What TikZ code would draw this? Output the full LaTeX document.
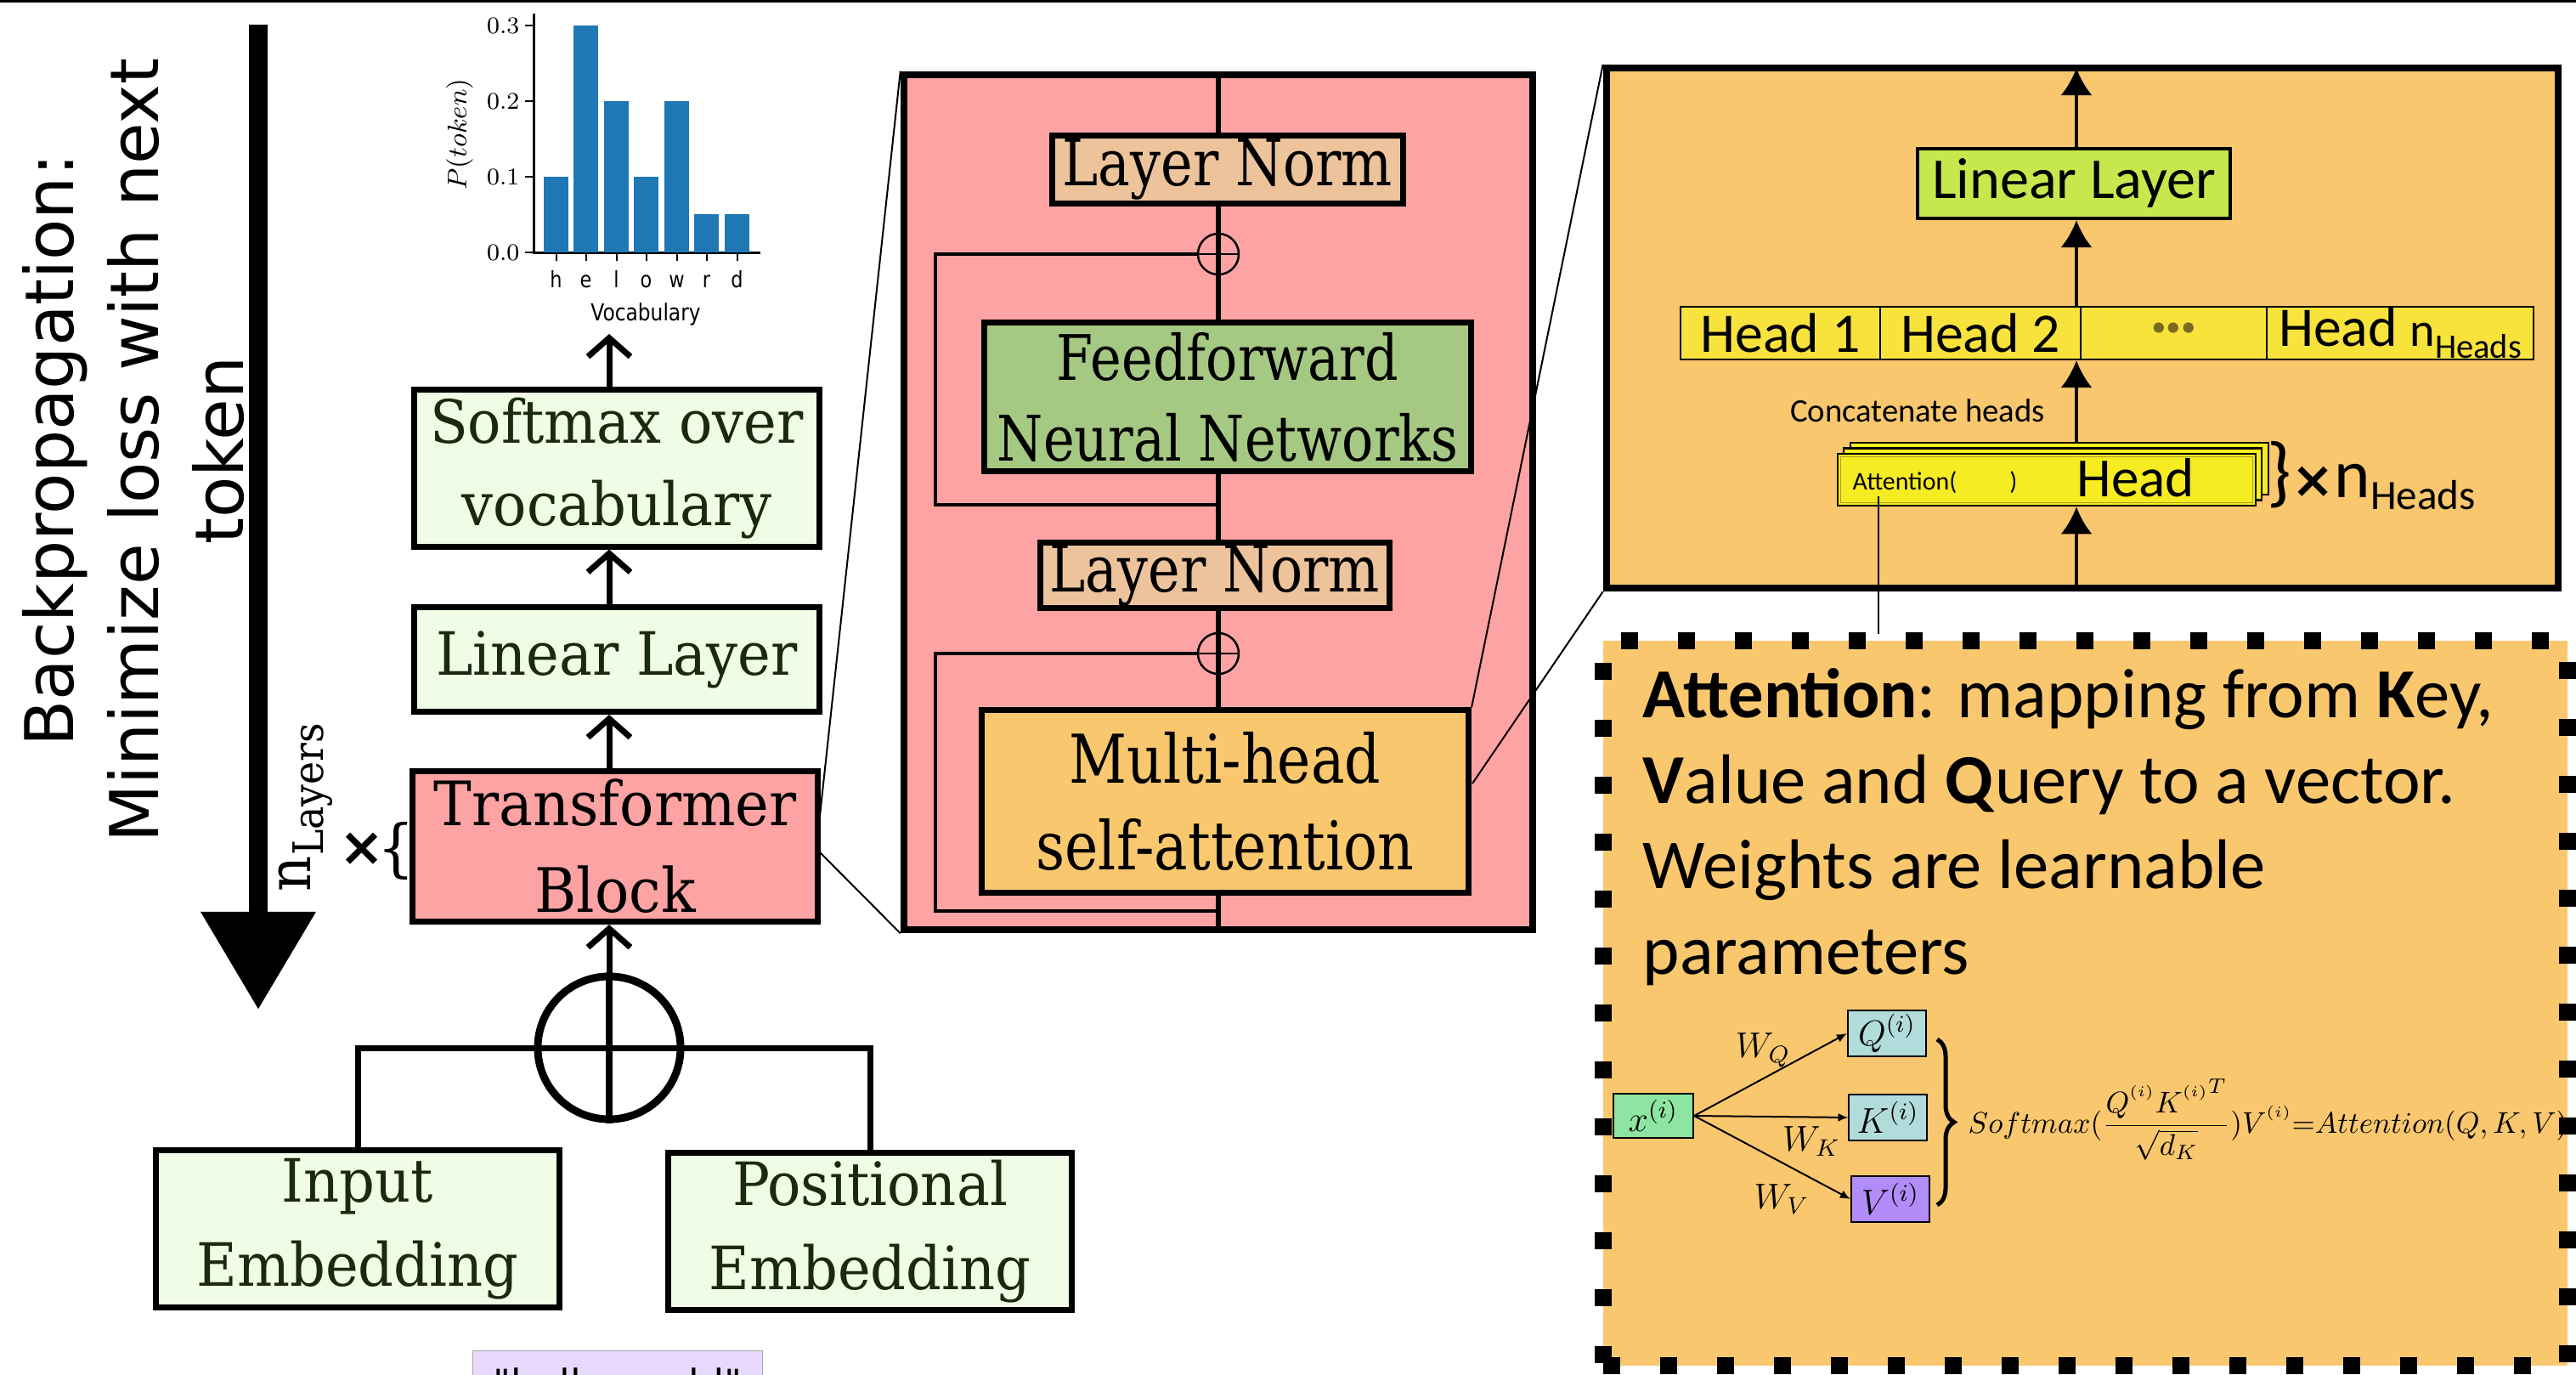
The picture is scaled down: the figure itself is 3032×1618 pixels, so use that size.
\documentclass[tikz,border=0pt]{standalone}
\usepackage{amsmath}
\usepackage{fontspec}
\usetikzlibrary{arrows.meta,decorations.pathreplacing,calc}
\newfontfamily\sfdv{DejaVu Sans}
\newfontfamily\sfdvc[FakeStretch=0.85]{DejaVu Sans}
\newfontfamily\srfa[FakeStretch=0.93]{DejaVu Serif}
\newfontfamily\srfb[FakeStretch=0.84]{DejaVu Serif}
\newfontfamily\carl{Carlito}
\definecolor{pinkc}{HTML}{FDA3A3}
\definecolor{tanc}{HTML}{EDC39C}
\definecolor{ffc}{HTML}{A5C882}
\definecolor{orangec}{HTML}{F9C76E}
\definecolor{lgreen}{HTML}{F0FCE6}
\definecolor{dtext}{HTML}{1B2A0E}
\definecolor{limec}{HTML}{C6E84C}
\definecolor{headc}{HTML}{F8E23C}
\definecolor{stackc}{HTML}{F6EC22}
\definecolor{xgreen}{HTML}{8DE5A1}
\definecolor{qkc}{HTML}{B2DCDC}
\definecolor{vc}{HTML}{B28CF9}
\definecolor{hellof}{HTML}{E6D9FB}
\definecolor{barblue}{HTML}{1F77B4}
\definecolor{dotc}{HTML}{7A6A20}
\newcommand{\isup}{\raisebox{0.35ex}{$\scriptscriptstyle(i)$}}
\tikzset{
  colbox/.style={draw, line width=0.07cm, fill=lgreen, text=dtext, align=center, inner sep=0,
    font=\srfa\fontsize{20}{27.6}\selectfont},
  pbox/.style={draw, line width=0.07cm, align=center, inner sep=0, font=\srfb\fontsize{21.5}{27.5}\selectfont},
  colarr/.style={line width=0.07cm, -{Straight Barb[length=0.22cm,width=0.5cm]}},
  oarr/.style={line width=0.04cm, -{Latex[length=0.32cm,width=0.37cm]}},
  skipln/.style={line width=0.045cm},
  zoomln/.style={line width=0.02cm},
  headcell/.style={draw, line width=0.02cm, fill=headc, minimum height=0.62cm, inner sep=0,
    font=\carl\fontsize{18.7}{20}\selectfont},
  stackbox/.style={draw, line width=0.025cm, fill=stackc, minimum width=4.92cm, minimum height=0.61cm, inner sep=0},
  mbox/.style={draw, line width=0.02cm, inner sep=0, font=\fontsize{12}{13}\selectfont},
  thinarr/.style={line width=0.02cm, -{Latex[length=0.12cm,width=0.1cm]}},
}
\begin{document}
\begin{tikzpicture}[x=0.01cm,y=-0.01cm]
\useasboundingbox (0,0) rectangle (3032,1618);
\clip (0,0) rectangle (3032,1618);

% top rule
\coordinate (tl) at (0,1.5); \coordinate (tr) at (3032,1.5);
\draw[line width=0.03cm] (tl) -- (tr);

% backpropagation arrow and label
\coordinate (bpTop) at (304,29); \coordinate (bpBot) at (304,1188);
\draw[line width=0.21cm, -{Triangle[length=1.15cm,width=1.3cm]}] (bpTop) -- (bpBot);
\node[rotate=90, align=center, inner sep=0, font=\sfdv\fontsize{22.5}{28.5}\selectfont] (bp) at (157,530)
  {Backpropagation:\\Minimize loss with next\\token};

% n_Layers x {
\node[rotate=90, inner sep=0, font=\srfa\fontsize{20}{20}\selectfont] (nl) at (360,950) {n{\fontsize{14}{14}\selectfont\raisebox{-0.3em}{Layers}}};
\node[inner sep=0, font=\sfdv\bfseries\fontsize{18}{18}\selectfont] (times1) at (426,999) {×};
\node[inner sep=0, font=\srfa\fontsize{21}{21}\selectfont] (brl) at (466,1001) {\{};

% bar chart
\draw[line width=0.03cm] (628,16) -- (628,297) -- (895,297);
\foreach \v/\y [count=\i] in {0.0/297,0.1/208,0.2/119,0.3/30}{
  \draw[line width=0.02cm] (618,\y) -- (628,\y);
  \node[anchor=east, inner sep=0, font=\fontsize{8.3}{9}\selectfont] (yl\i) at (612,\y) {$\v$};
}
\foreach \cx/\v/\l [count=\i] in {654.5/0.1/h,689.5/0.3/e,725.5/0.2/l,760.5/0.1/o,796.5/0.2/w,831.5/0.05/r,867.5/0.05/d}{
  \fill[barblue] (\cx-14.5,297) rectangle (\cx+14.5,297-\v*890);
  \draw[line width=0.02cm] (\cx,297) -- (\cx,307);
  \node[anchor=base, inner sep=0, font=\sfdvc\fontsize{7.5}{8}\selectfont] (xl\i) at (\cx,338) {\l};
}
\node[anchor=base, inner sep=0, font=\sfdvc\fontsize{7.8}{9}\selectfont] (vocab) at (760,377) {Vocabulary};
\node[rotate=90, inner sep=0, font=\fontsize{8.7}{10}\selectfont] (ptok) at (541,158) {$P(token)$};

% left column
\node[colbox, minimum width=4.76cm, minimum height=1.84cm] (sm) at (726,551) {Softmax over\\vocabulary};
\node[colbox, minimum width=4.76cm, minimum height=1.23cm] (ll) at (726,776) {Linear Layer};
\node[colbox, fill=pinkc, text=black, minimum width=4.76cm, minimum height=1.77cm, font=\srfa\fontsize{20.5}{29}\selectfont] (tb) at (724,996) {Transformer\\Block};
\node[colbox, minimum width=4.74cm, minimum height=1.85cm, font=\srfa\fontsize{20}{28}\selectfont] (ie) at (421,1446) {Input\\Embedding};
\node[colbox, minimum width=4.74cm, minimum height=1.85cm, font=\srfa\fontsize{20}{28}\selectfont] (pe) at (1024,1449) {Positional\\Embedding};
\node[draw=gray!70, line width=0.01cm, fill=hellof, minimum width=3.4cm, minimum height=0.75cm, anchor=north,
  font=\sfdv\fontsize{13}{15}\selectfont] (hw) at (727,1589) {"hello world"};

\node[circle, draw, line width=0.09cm, minimum size=1.68cm, inner sep=0] (plus) at (717,1233) {};
\draw[line width=0.08cm] (plus.north) -- (plus.south);
\draw[line width=0.07cm] (ie.north) |- (plus.center) -| (pe.north);
\coordinate (chartbot) at (717,393);
\draw[colarr] (plus.north) -- (plus.north |- tb.south);
\draw[colarr] (plus.north |- tb.north) -- (plus.north |- ll.south);
\draw[colarr] (plus.north |- ll.north) -- (plus.north |- sm.south);
\draw[colarr] (plus.north |- sm.north) -- (chartbot);

% transformer block detail
\node[draw, line width=0.08cm, fill=pinkc, minimum width=7.40cm, minimum height=10.06cm, inner sep=0] (pink) at (1434,591) {};
\draw[line width=0.06cm] (pink.north) -- (pink.south);
\node[pbox, fill=tanc, minimum width=4.12cm, minimum height=0.80cm] (ln1) at (1445,199.5) {Layer Norm};
\node[circle, draw, line width=0.025cm, minimum size=0.48cm, inner sep=0] (op1) at (1434,299) {};
\draw[line width=0.025cm] (op1.west) -- (op1.east);
\node[pbox, fill=ffc, minimum width=5.73cm, minimum height=1.75cm, font=\srfb\fontsize{21}{27}\selectfont] (ff) at (1445,467) {Feedforward\\Neural Networks};
\node[pbox, fill=tanc, minimum width=4.11cm, minimum height=0.77cm] (ln2) at (1430,677) {Layer Norm};
\node[circle, draw, line width=0.025cm, minimum size=0.48cm, inner sep=0] (op2) at (1434,769) {};
\draw[line width=0.025cm] (op2.west) -- (op2.east);
\node[pbox, fill=orangec, minimum width=5.73cm, minimum height=2.15cm, font=\srfb\fontsize{22.5}{29}\selectfont] (mha) at (1442,943) {Multi-head\\self-attention};
\coordinate (s1) at (1101,594); \coordinate (j1) at (1434,594);
\coordinate (s2) at (1101,1072); \coordinate (j2) at (1434,1072);
\draw[skipln] (op1.west) -| (s1) -- (j1);
\draw[skipln] (op2.west) -| (s2) -- (j2);

% multi-head attention detail
\node[draw, line width=0.08cm, fill=orangec, minimum width=11.20cm, minimum height=6.12cm, inner sep=0] (orng) at (2451,386) {};
\node[draw, line width=0.04cm, fill=limec, minimum width=3.68cm, minimum height=0.82cm, inner sep=0,
  font=\carl\fontsize{19.4}{20}\selectfont] (oll) at (2441,216) {Linear Layer};
\node[headcell, minimum width=2.35cm] (h1) at (2095.5,392) {Head 1};
\node[headcell, minimum width=2.36cm] (h2) at (2331,392) {Head 2};
\node[headcell, minimum width=2.19cm, text=dotc, font=\carl\bfseries\fontsize{18.7}{20}\selectfont] (hd) at (2558.5,392) {···};
\node[headcell, minimum width=3.14cm] (hn) at (2825,392) {Head {\fontsize{16}{16}\selectfont n{\fontsize{11.5}{12}\selectfont\raisebox{-0.35em}{Heads}}}};
\node[stackbox] (hs3) at (2424,551.5) {};
\node[stackbox] (hs2) at (2416,558) {};
\node[stackbox] (hs1) at (2409,564.5) {};
\draw[line width=0.015cm, draw={rgb,255:red,170;green,160;blue,40}] ([xshift=0.05cm,yshift=-0.05cm]hs1.north west) rectangle ([xshift=-0.05cm,yshift=0.05cm]hs1.south east);
\node[anchor=base west, inner sep=0, font=\carl\fontsize{8.5}{9}\selectfont] (attl) at (2180,576) {Attention(\hspace{0.62cm})};
\node[anchor=base, inner sep=0, font=\carl\fontsize{18.5}{19}\selectfont] (headl) at (2514,584) {Head};
\node[anchor=base west, inner sep=0] (nh) at (2668,585) {{\carl\fontsize{26}{26}\selectfont\}}{\sfdv\bfseries\fontsize{17}{17}\selectfont ×}{\carl\fontsize{23}{23}\selectfont n}{\carl\fontsize{14}{14}\selectfont\raisebox{-0.3em}{Heads}}};
\node[inner sep=0, font=\carl\fontsize{11}{12}\selectfont] (cat) at (2257,483) {Concatenate heads};
\coordinate (ob) at (2444,692); \coordinate (ot) at (2444,80);
\draw[oarr] (ob) -- (ob |- hs1.south);
\draw[oarr] (ob |- hs3.north) -- (ob |- h1.south);
\draw[oarr] (ob |- h1.north) -- (ob |- oll.south);
\draw[oarr] (ob |- oll.north) -- (ot);

% attention explanation
\node[draw, line width=0.2cm, dash pattern=on 0.2cm off 0.47cm, fill=orangec, minimum width=11.35cm, minimum height=8.53cm, inner sep=0] (att) at (2454.5,1180.5) {};
\coordinate (attA) at (2211,584); \coordinate (attB) at (2211,746);
\draw[line width=0.02cm] (attA) -- (attB);
\node[anchor=north west, inner sep=0, align=left, font=\carl\fontsize{23.5}{28.6}\selectfont] (atxt) at (1933,786)
  {\textbf{Attention}: mapping from \textbf{K}ey,\\\textbf{V}alue and \textbf{Q}uery to a vector.\\Weights are learnable\\parameters};
\node[mbox, fill=xgreen, minimum width=0.94cm, minimum height=0.52cm] (xb) at (1946,1313) {$x^{(i)}$};
\node[mbox, fill=qkc, minimum width=0.92cm, minimum height=0.54cm] (qb) at (2221,1216) {$Q^{(i)}$};
\node[mbox, fill=qkc, minimum width=0.91cm, minimum height=0.54cm] (kb) at (2222,1315) {$K^{(i)}$};
\node[mbox, fill=vc, minimum width=0.92cm, minimum height=0.54cm] (vb) at (2225,1411) {$V^{(i)}$};
\draw[thinarr] (xb.east) -- (qb.west);
\draw[thinarr] (xb.east) -- (kb.west);
\draw[thinarr] (xb.east) -- (vb.west);
\node[inner sep=0, font=\fontsize{12}{13}\selectfont] (wq) at (2075,1236) {$W_Q$};
\node[inner sep=0, font=\fontsize{12}{13}\selectfont] (wk) at (2132,1343) {$W_K$};
\node[inner sep=0, font=\fontsize{12}{13}\selectfont] (wv) at (2097,1411) {$W_V$};
\coordinate (br1) at (2280,1223); \coordinate (br2) at (2280,1418);
\draw[line width=0.05cm, decorate, decoration={brace, amplitude=0.2cm}] (br1) -- (br2);
\node[anchor=base west, inner sep=0, font=\fontsize{10.4}{12}\selectfont] (fm) at (2316,1333)
  {$Softmax(\dfrac{Q^{\isup}{K^{\isup}}^{T}}{\sqrt{d_K}})V^{\isup}{=}Attention(Q,K,V)$};

% zoom lines
\coordinate (z1) at (965,960); \coordinate (z2) at (965,1003); \coordinate (z3) at (1733,922);
\draw[zoomln] (z1) -- (pink.north west);
\draw[zoomln] (z2) -- (pink.south west);
\draw[zoomln] (mha.north east) -- (orng.north west);
\draw[zoomln] (z3) -- (orng.south west);
\end{tikzpicture}
\end{document}
